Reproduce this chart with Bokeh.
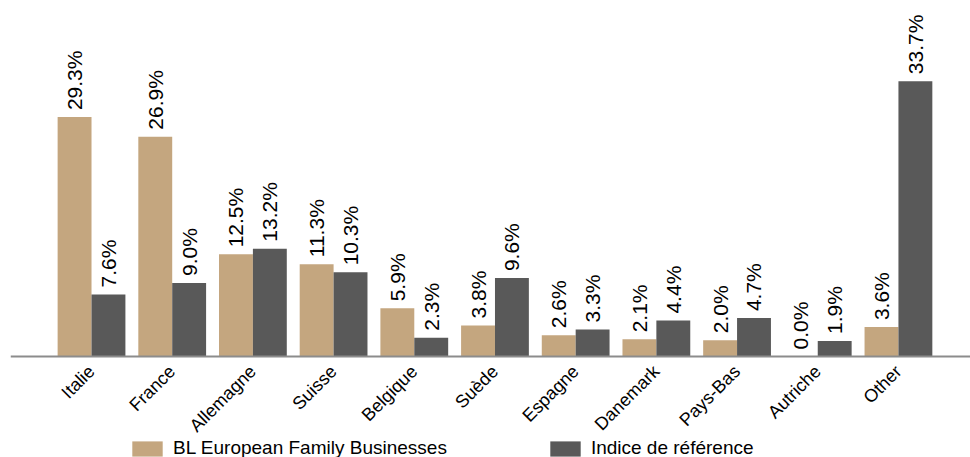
import math
from bokeh.plotting import figure
from bokeh.models import ColumnDataSource, LabelSet, Range1d, FixedTicker, Legend, LegendItem
from bokeh.transform import dodge
from bokeh.core.properties import value
from bokeh.embed import file_html
from bokeh.resources import INLINE

categories = ["Italie", "France", "Allemagne", "Suisse", "Belgique", "Suède",
              "Espagne", "Danemark", "Pays-Bas", "Autriche", "Other"]
fund = [29.3, 26.9, 12.5, 11.3, 5.9, 3.8, 2.6, 2.1, 2.0, 0.0, 3.6]
benchmark = [7.6, 9.0, 13.2, 10.3, 2.3, 9.6, 3.3, 4.4, 4.7, 1.9, 33.7]
series_names = ["BL European Family Businesses", "Indice de référence"]
colors = ["#C4A67F", "#595959"]

FONT = "Liberation Sans"

x = list(range(len(categories)))
src = ColumnDataSource(dict(
    x=x, fund=fund, bench=benchmark,
    fund_lbl=[f"{v:.1f}%" for v in fund],
    bench_lbl=[f"{v:.1f}%" for v in benchmark],
))

p = figure(width=970, height=457, output_backend="svg", toolbar_location=None,
           x_range=Range1d(-1.004, 10.893), y_range=Range1d(-12.36, 43.57),
           y_axis_location=None,
           min_border_left=10, min_border_right=0, min_border_top=0, min_border_bottom=0)
p.outline_line_color = None
p.xgrid.visible = False
p.ygrid.visible = False
p.background_fill_color = "white"
p.border_fill_color = "white"

off = 0.21
bw = 0.42
r1 = p.vbar(x=dodge("x", -off, range=p.x_range), top="fund", width=bw, bottom=0,
            source=src, fill_color=colors[0], line_color=None)
r2 = p.vbar(x=dodge("x", off, range=p.x_range), top="bench", width=bw, bottom=0,
            source=src, fill_color=colors[1], line_color=None)

for col, lbl, d in (("fund", "fund_lbl", -off), ("bench", "bench_lbl", off)):
    ls = LabelSet(x=dodge("x", d, range=p.x_range), y=col, text=lbl, source=src,
                  angle=math.pi / 2, text_align="left", text_baseline="middle",
                  y_offset=7, text_font=value(FONT), text_font_size=value("21px"),
                  text_color="black")
    p.add_layout(ls)

ax = p.xaxis[0]
ax.fixed_location = 0
ax.ticker = FixedTicker(ticks=x)
ax.major_label_overrides = {i: c for i, c in enumerate(categories)}
ax.major_label_orientation = math.pi / 4
ax.major_label_text_font = FONT
ax.major_label_text_font_size = "18px"
ax.major_label_text_color = "black"
ax.major_tick_line_color = None
ax.minor_tick_line_color = None
ax.axis_line_color = "#8C8C8C"
ax.axis_line_width = 2
ax.major_label_standoff = 6

lg = Legend(items=[LegendItem(label=series_names[0], renderers=[r1]),
                   LegendItem(label=series_names[1], renderers=[r2])],
            location=(118, -2), orientation="horizontal", spacing=99,
            border_line_color=None, background_fill_alpha=0,
            padding=0, margin=0, glyph_width=38, glyph_height=19,
            label_standoff=7, label_height=19,
            label_text_font=FONT, label_text_font_size="19px",
            label_text_color="black")
p.add_layout(lg, "center")

open("out.html", "w").write(file_html(p, INLINE))
